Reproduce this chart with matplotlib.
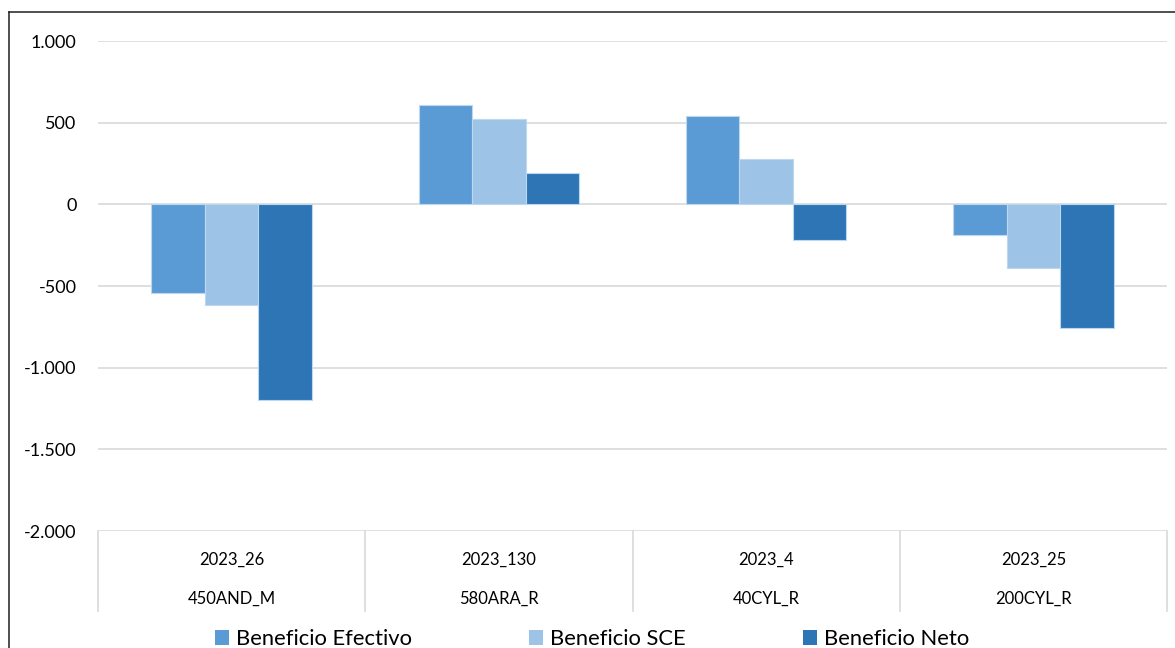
import matplotlib.pyplot as plt
from matplotlib.patches import Patch
import numpy as np

plt.rcParams['font.family'] = ['Lato', 'DejaVu Sans']

# datos por proyecto
codigos = ['2023_26', '2023_130', '2023_4', '2023_25']
proyectos = ['450AND_M', '580ARA_R', '40CYL_R', '200CYL_R']
series = ['Beneficio Efectivo', 'Beneficio SCE', 'Beneficio Neto']
efectivo = [-540, 608, 541, -190]
sce = [-614, 522, 277, -388]
neto = [-1195, 192, -216, -755]
colores = ['#5B9BD5', '#9DC3E6', '#2E75B6']

W, H = 1175, 648
fig = plt.figure(figsize=(W / 100, H / 100), dpi=100)

# marco del grafico (solo se ven el borde izquierdo y superior)
fig.add_artist(plt.Line2D([9 / W, 9 / W], [0, 1 - 12 / H], color='#1f1f1f', lw=1.1))
fig.add_artist(plt.Line2D([9 / W, 1], [1 - 12 / H, 1 - 12 / H], color='#1f1f1f', lw=1.1))

ax = fig.add_axes([98 / W, (H - 531) / H, (1167 - 98) / W, (531 - 41) / H])

x = np.arange(len(codigos))
ancho = 0.2
for i, (vals, col) in enumerate(zip([efectivo, sce, neto], colores)):
    ax.bar(x + (i - 1) * ancho, vals, ancho, color=col, edgecolor='#BDD7EE',
           linewidth=0.8, zorder=3)

ax.set_xlim(-0.5, len(codigos) - 0.5)
ax.set_ylim(-2000, 1000)
ax.set_yticks(np.arange(-2000, 1001, 500))
ax.set_yticklabels([f'{v:,}'.replace(',', '.') for v in range(-2000, 1001, 500)])
ax.yaxis.grid(True, color='#D9D9D9', lw=1.2, zorder=0)
ax.tick_params(axis='y', length=0, pad=15.5, labelsize=13, labelcolor='#000000')
ax.set_xticks([])
for s in ['top', 'right', 'left', 'bottom']:
    ax.spines[s].set_visible(False)

# eje de categorias en dos niveles
trans = ax.get_xaxis_transform()
fondo = -(611 - 531) / (531 - 41)
for b in np.arange(-0.5, len(codigos), 1.0):
    ax.plot([b, b], [0, fondo], transform=trans, color='#D9D9D9', lw=1.2,
            clip_on=False)
for xi, c, p in zip(x, codigos, proyectos):
    ax.text(xi, -(560 - 531) / (531 - 41), c, transform=trans, ha='center',
            va='center', fontsize=12)
    ax.text(xi, -(599 - 531) / (531 - 41), p, transform=trans, ha='center',
            va='center', fontsize=12)

handles = [Patch(facecolor=c, edgecolor='none') for c in colores]
fig.legend(handles, series, loc='center', bbox_to_anchor=(592 / W, (H - 639) / H),
           ncol=3, frameon=False, fontsize=15.8, handlelength=0.65, handleheight=0.65,
           handletextpad=0.3, columnspacing=5.35)

fig.savefig('out.png', dpi=100)
